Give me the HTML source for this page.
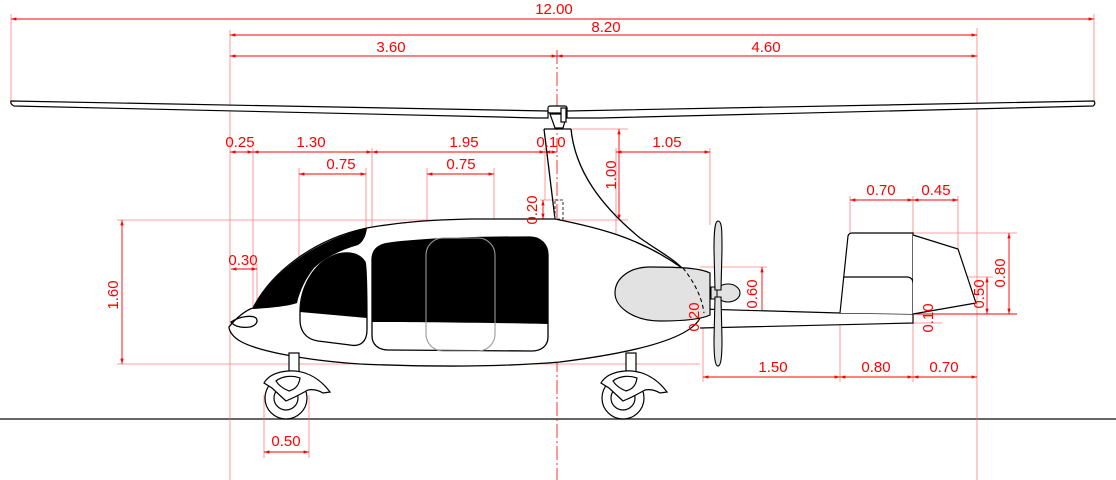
<!DOCTYPE html>
<html><head><meta charset="utf-8"><style>
html,body{margin:0;padding:0;background:#fff;}
svg{display:block;}
.d{stroke:#ff0000;stroke-width:0.9;fill:none;}
.e{stroke:#ff6060;stroke-width:0.8;fill:none;opacity:0.8;}
.t{fill:#ff0000;font-family:"Liberation Sans",sans-serif;font-size:15px;text-anchor:middle;}
.k{stroke:#000;stroke-width:1.3;fill:none;}
</style></head><body>
<svg width="1116" height="480" viewBox="0 0 1116 480" xmlns="http://www.w3.org/2000/svg">
<defs>
<marker id="a" viewBox="0 0 10 10" refX="10" refY="5" markerWidth="6" markerHeight="6" orient="auto-start-reverse"><path d="M0,2 L10,5 L0,8 z" fill="#ff0000"/></marker>
</defs>

<line x1="0" y1="419" x2="1116" y2="419" stroke="#333" stroke-width="1.5"/>

<g class="e">
<line x1="11" y1="14" x2="11" y2="101"/>
<line x1="1094" y1="14" x2="1094" y2="101"/>
<line x1="230" y1="30" x2="230" y2="480"/>
<line x1="977" y1="28" x2="977" y2="480"/>
<line x1="253" y1="148" x2="253" y2="318"/>
<line x1="372" y1="148" x2="372" y2="242"/>
<line x1="545" y1="148" x2="545" y2="200"/>
<line x1="299" y1="168" x2="299" y2="300"/>
<line x1="366" y1="168" x2="366" y2="240"/>
<line x1="427" y1="168" x2="427" y2="240"/>
<line x1="494" y1="168" x2="494" y2="240"/>
<line x1="117" y1="220" x2="628" y2="220"/>
<line x1="117" y1="364" x2="700" y2="364"/>
<line x1="571" y1="129" x2="628" y2="129"/>
<line x1="616" y1="148" x2="616" y2="290"/>
<line x1="710" y1="148" x2="710" y2="225"/>
<line x1="540" y1="200" x2="562" y2="200"/>
<line x1="700" y1="267" x2="767" y2="267"/>
<line x1="700" y1="321" x2="767" y2="321"/>
<line x1="703" y1="310" x2="703" y2="382"/>
<line x1="840" y1="313" x2="840" y2="382"/>
<line x1="913" y1="196" x2="913" y2="382"/>
<line x1="850" y1="196" x2="850" y2="233"/>
<line x1="958" y1="196" x2="958" y2="249"/>
<line x1="913" y1="233" x2="1017" y2="233"/>
<line x1="913" y1="277" x2="993" y2="277"/>
<line x1="913" y1="323" x2="942" y2="323"/>
<line x1="264" y1="395" x2="264" y2="458"/>
<line x1="309" y1="395" x2="309" y2="458"/>
<line x1="257" y1="264" x2="257" y2="318"/>
</g>
<line x1="913" y1="314" x2="1017" y2="314" stroke="#ff0000" stroke-width="1"/>
<line x1="557" y1="50" x2="557" y2="480" stroke="#ff0000" stroke-width="0.8" stroke-dasharray="14,3,2,3"/>

<g class="d" marker-start="url(#a)" marker-end="url(#a)">
<line x1="11" y1="19" x2="1094" y2="19"/>
<line x1="230" y1="35" x2="977" y2="35"/>
<line x1="230" y1="56" x2="557" y2="56"/>
<line x1="557" y1="56" x2="977" y2="56"/>
<line x1="230" y1="152" x2="253" y2="152"/>
<line x1="253" y1="152" x2="372" y2="152"/>
<line x1="372" y1="152" x2="545" y2="152"/>
<line x1="545" y1="152" x2="557" y2="152"/>
<line x1="616" y1="152" x2="710" y2="152"/>
<line x1="299" y1="174" x2="366" y2="174"/>
<line x1="427" y1="174" x2="494" y2="174"/>
<line x1="619" y1="129" x2="619" y2="220"/>
<line x1="543" y1="200" x2="543" y2="219"/>
<line x1="122" y1="220" x2="122" y2="364"/>
<line x1="231" y1="269" x2="257" y2="269"/>
<line x1="264" y1="452" x2="309" y2="452"/>
<line x1="762" y1="267" x2="762" y2="321"/>
<line x1="703" y1="310" x2="703" y2="327"/>
<line x1="703" y1="377" x2="840" y2="377"/>
<line x1="840" y1="377" x2="913" y2="377"/>
<line x1="913" y1="377" x2="977" y2="377"/>
<line x1="850" y1="200" x2="913" y2="200"/>
<line x1="913" y1="200" x2="958" y2="200"/>
<line x1="1009" y1="233" x2="1009" y2="314"/>
<line x1="987" y1="277" x2="987" y2="314"/>
</g>

<g stroke="#000" stroke-width="1.2" fill="#fff">
<path d="M11,101 L548,111 L548,118 L536,118 L500,117 L14,106 Q10,104 11,101 Z"/>
<path d="M567,111 L1094,101 Q1096,104 1093,106 L600,118 L567,118 Z"/>
<path d="M550,114 L567,114 L563,128 L555,128 Z"/>
<rect x="548" y="106" width="19" height="7" rx="2"/>
<rect x="561" y="108" width="5" height="14"/>
</g>

<path d="M544,129 L571,129" class="k"/>
<path d="M544,129 L555,219" class="k"/>
<path d="M571,129 C575,170 600,205 640,238 C660,252 672,258 682,268" class="k"/>
<rect x="555" y="200" width="8" height="19" fill="none" stroke="#444" stroke-width="1.1" stroke-dasharray="3,2"/>

<path d="M700,309 L840,313 L913,314 L913,323 L700,328" fill="#fff" stroke="#000" stroke-width="1.2"/>

<path d="M840,313 L848,236 Q849,233 852,233 L913,233 L913,314" fill="#fff" stroke="#000" stroke-width="1.2"/>
<path d="M844,277 L908,277 Q913,278 913,283" class="k"/>
<path d="M913,235 L958,249 L976,303 L913,314" fill="#fff" stroke="#000" stroke-width="1.2"/>

<path d="M229,327 C236,318 246,310 253,308 C270,275 310,240 367,228 C400,222 430,220 470,219 L555,219 C600,228 640,238 682,268 C700,285 708,305 700,318 C690,338 640,352 560,362 C500,367 430,367 360,364 C300,360 255,350 240,341 C233,337 229,331 229,327 Z" fill="#fff" stroke="#000" stroke-width="1.3"/>
<path d="M231,322 C240,316 252,315 256,318 C259,322 255,326 250,327 C242,328 235,327 231,322 Z" class="k" stroke-width="1.1"/>
<path d="M253,309 C270,275 310,242 367,228 C366,236 363,242 358,245 C340,250 325,258 314,268 C306,278 300,290 297,303 C290,306 270,308 253,309 Z" fill="#000"/>
<path d="M300,312 C300,290 312,262 338,254 C350,251 360,254 365,262 C367,268 367,300 367,318 Z" fill="#000"/>
<path d="M300,312 C300,290 312,262 338,254 C350,251 360,254 365,262 C367,268 367,320 367,330 C367,342 360,347 350,345 L318,341 C305,339 300,330 300,320 Z" class="k" stroke-width="1.2"/>
<path d="M372,322 L372,260 C372,248 380,244 390,243 C430,238 480,237 530,237 C540,237 548,244 548,255 L548,324 C500,323 420,322 372,322 Z" fill="#000"/>
<path d="M372,260 C372,248 380,244 390,243 C430,238 480,237 530,237 C540,237 548,244 548,255 L548,337 C548,346 541,351 532,351 L388,350 C378,350 372,344 372,336 Z" class="k" stroke-width="1.2"/>
<rect x="426" y="238" width="69" height="113" rx="17" fill="none" stroke="#999" stroke-width="1.1"/>

<path d="M650,267 C680,267 700,268 710,273 L710,315 C700,320 680,321 660,321 C635,321 615,308 615,293 C615,278 630,267 650,267 Z" fill="#e2e2e2" stroke="#000" stroke-width="1.2"/>
<path d="M683,268 C695,283 702,298 704,313" fill="none" stroke="#000" stroke-width="1.1" stroke-dasharray="4,3"/>
<ellipse cx="728" cy="293" rx="12" ry="9" fill="#e2e2e2" stroke="#000" stroke-width="1.1"/>
<rect x="711" y="287" width="6" height="12" fill="#e2e2e2" stroke="#000" stroke-width="1"/>
<path d="M718,221 C722,221 722,230 722,250 L721,290 L715,290 L714,250 C714,230 715,221 718,221 Z" fill="#e2e2e2" stroke="#000" stroke-width="1.1"/>
<path d="M715,297 L721,297 L722,340 C722,356 721,366 718,366 C715,366 714,356 714,340 Z" fill="#e2e2e2" stroke="#000" stroke-width="1.1"/>

<g id="w" stroke="#000" stroke-width="1.2" fill="#fff">
<rect x="289" y="353" width="10" height="20"/>
<circle cx="286" cy="398" r="21"/>
<circle cx="286" cy="398" r="12"/>
<path d="M264,383 C268,376 276,372 288,371 C303,370 318,376 330,392 L323,393 C318,390 313,389 308,390 C304,392 300,395 286,401 L272,388 Z"/>
<path d="M276,381 C282,376 292,375 300,378 C299,385 296,389 289,391 C284,389 279,386 276,381 Z"/>
</g>
<use href="#w" transform="translate(337,0)"/>

<g class="t">
<text x="554" y="14">12.00</text>
<text x="606" y="32">8.20</text>
<text x="391" y="52">3.60</text>
<text x="766" y="52">4.60</text>
<text x="240" y="147">0.25</text>
<text x="311" y="147">1.30</text>
<text x="464" y="147">1.95</text>
<text x="551" y="147">0.10</text>
<text x="667" y="147">1.05</text>
<text x="341" y="169">0.75</text>
<text x="461" y="169">0.75</text>
<text x="243" y="265">0.30</text>
<text x="286" y="446">0.50</text>
<text x="773" y="372">1.50</text>
<text x="876" y="372">0.80</text>
<text x="944" y="372">0.70</text>
<text x="881" y="195">0.70</text>
<text x="936" y="195">0.45</text>
<text transform="translate(118,295) rotate(-90)">1.60</text>
<text transform="translate(616,175) rotate(-90)">1.00</text>
<text transform="translate(537,210) rotate(-90)">0.20</text>
<text transform="translate(757,294) rotate(-90)">0.60</text>
<text transform="translate(699,317) rotate(-90)">0.20</text>
<text transform="translate(1005,273) rotate(-90)">0.80</text>
<text transform="translate(984,294) rotate(-90)">0.50</text>
<text transform="translate(933,318) rotate(-90)">0.10</text>
</g>
</svg>
</body></html>
